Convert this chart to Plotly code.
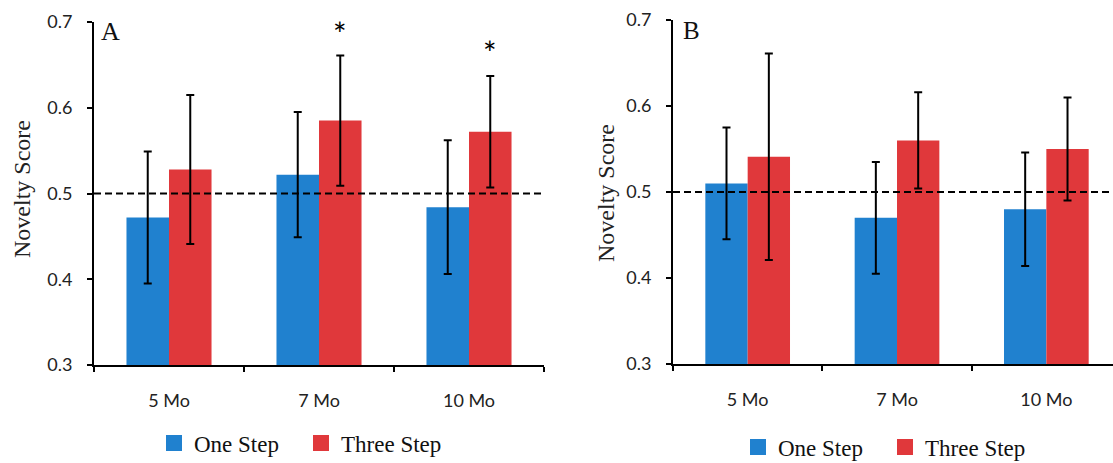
import plotly.graph_objects as go

categories = ["5 Mo", "7 Mo", "10 Mo"]
series_names = ["One Step", "Three Step"]

# Panel A
a_one = [0.472, 0.522, 0.484]
a_one_err = [0.077, 0.073, 0.078]
a_three = [0.528, 0.585, 0.572]
a_three_err = [0.087, 0.076, 0.065]
a_stars = ["", "*", "*"]
a_star_y = [None, 0.694, 0.671]

# Panel B
b_one = [0.510, 0.470, 0.480]
b_one_err = [0.065, 0.065, 0.066]
b_three = [0.541, 0.560, 0.550]
b_three_err = [0.120, 0.056, 0.060]

y_ticks = [0.3, 0.4, 0.5, 0.6, 0.7]
chance_level = 0.5

BLUE = "#2081cf"
RED = "#e0383b"
SERIF = "Liberation Serif"
SANS = "Lato"

W, H = 1113, 463

fig = go.Figure()

def add_panel(xa, ya, one, one_err, three, three_err):
    for name, vals, errs, col in [(series_names[0], one, one_err, BLUE),
                                  (series_names[1], three, three_err, RED)]:
        fig.add_trace(go.Bar(
            x=categories, y=vals, name=name, marker=dict(color=col, line=dict(width=0)),
            error_y=dict(type="data", array=errs, visible=True, color="black",
                         thickness=2, width=4),
            xaxis=xa, yaxis=ya, showlegend=False, offsetgroup=name,
        ))

add_panel("x", "y", a_one, a_one_err, a_three, a_three_err)
add_panel("x2", "y2", b_one, b_one_err, b_three, b_three_err)

# legend entries
for lg in ["legend", "legend2"]:
    for name, col in [(series_names[0], BLUE), (series_names[1], RED)]:
        fig.add_trace(go.Scatter(
            x=[None], y=[None], mode="markers", name=name,
            marker=dict(symbol="square", size=21, color=col),
            legend=lg, showlegend=True, xaxis="x", yaxis="y",
        ))

def px_x(p):
    return p / W

def px_y(p):
    return 1 - p / H

axis_common = dict(showline=True, linecolor="black", linewidth=2, ticks="outside",
                   tickcolor="black", tickwidth=2, ticklen=5, showgrid=False,
                   zeroline=False, mirror=False)
tickfont = dict(family=SANS, size=18, color="#222")
legfont = dict(family=SERIF, size=23, color="#111")

fig.update_layout(
    template="none",
    width=W, height=H,
    font=dict(family=SERIF, size=23, color="#111"),
    margin=dict(l=0, r=0, t=0, b=0, autoexpand=False),
    paper_bgcolor="white", plot_bgcolor="white",
    barmode="group", bargap=0.433, bargroupgap=0,
    xaxis=dict(domain=[px_x(94), px_x(544)], anchor="y", type="category",
               range=[-0.5, 2.5], tickson="boundaries", tickfont=tickfont,
               ticklabelstandoff=18, **axis_common),
    yaxis=dict(domain=[px_y(365), px_y(22)], anchor="x", range=[0.3, 0.7],
               tickvals=y_ticks, ticktext=[f"{v:.1f}" for v in y_ticks],
               tickfont=tickfont, ticklabelstandoff=11, **axis_common),
    xaxis2=dict(domain=[px_x(673), 1.0], anchor="y2", type="category",
                range=[-0.5, 2.5 - 8 / 149], tickson="boundaries", tickfont=tickfont,
                ticklabelstandoff=18, **axis_common),
    yaxis2=dict(domain=[px_y(364), px_y(20)], anchor="x2", range=[0.3, 0.7],
                tickvals=y_ticks, ticktext=[f"{v:.1f}" for v in y_ticks],
                tickfont=tickfont, ticklabelstandoff=11, **axis_common),
    legend=dict(orientation="h", x=px_x(154), xanchor="left", y=px_y(443), yanchor="middle",
                font=legfont, entrywidth=102, entrywidthmode="pixels",
                bgcolor="rgba(0,0,0,0)", itemwidth=30),
    legend2=dict(orientation="h", x=px_x(738), xanchor="left", y=px_y(447), yanchor="middle",
                 font=legfont, entrywidth=102, entrywidthmode="pixels",
                 bgcolor="rgba(0,0,0,0)", itemwidth=30),
)

# chance line
for xr, yr in [("x domain", "y"), ("x2 domain", "y2")]:
    fig.add_shape(type="line", xref=xr, yref=yr, x0=0, x1=1, y0=chance_level, y1=chance_level,
                  line=dict(color="black", width=2, dash="7px,4px"), layer="above")

# significance stars
for cat, s, yv in zip(categories, a_stars, a_star_y):
    if s:
        fig.add_annotation(x=cat, y=yv, xref="x", yref="y", text=s, showarrow=False,
                           xshift=21, yshift=-6, font=dict(family=SANS, size=32, color="black"))

# y titles and panel letters
def paper_text(xp, yp, text, size, angle=0, color="#222"):
    fig.add_annotation(x=px_x(xp), y=px_y(yp), xref="paper", yref="paper", text=text,
                       xanchor="center", yanchor="middle", textangle=angle, showarrow=False,
                       font=dict(family=SERIF, size=size, color=color))

paper_text(22, 189, "Novelty Score", 24, -90)
paper_text(606, 193, "Novelty Score", 24, -90)
paper_text(110, 32, "A", 26, 0, "#111")
paper_text(691, 30, "B", 25, 0, "#111")

fig.write_html(
    "out.html",
    config={"displayModeBar": False},
    post_script="document.body.style.margin='0';document.body.style.overflow='hidden';",
)
